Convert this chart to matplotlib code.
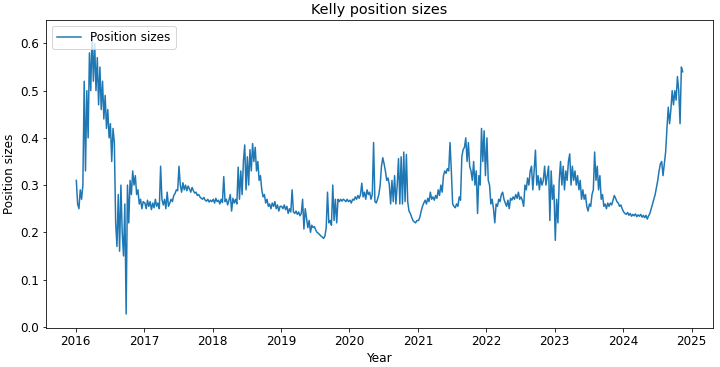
import matplotlib
matplotlib.use("Agg")
import matplotlib.pyplot as plt
import matplotlib.dates as mdates
import pandas as pd

# Weekly readings of the Kelly position size, one list per calendar year
pos_2016 = [0.31, 0.26, 0.25, 0.29, 0.27, 0.30, 0.52, 0.33, 0.50, 0.40,
            0.58, 0.50, 0.62, 0.52, 0.60, 0.50, 0.57, 0.47, 0.55, 0.46,
            0.52, 0.44, 0.49, 0.42, 0.46, 0.40, 0.43, 0.35, 0.42, 0.39,
            0.22, 0.17, 0.28, 0.16, 0.30, 0.20, 0.15, 0.26, 0.027, 0.30,
            0.22, 0.31, 0.28, 0.33, 0.30, 0.32, 0.28, 0.29, 0.26, 0.27,
            0.25, 0.265]
pos_2017 = [0.262, 0.25, 0.268, 0.255, 0.265, 0.248, 0.262, 0.252, 0.27, 0.255,
            0.262, 0.25, 0.34, 0.27, 0.258, 0.27, 0.25, 0.285, 0.255, 0.262,
            0.27, 0.265, 0.278, 0.282, 0.29, 0.288, 0.34, 0.30, 0.285, 0.305,
            0.29, 0.30, 0.288, 0.298, 0.292, 0.285, 0.295, 0.288, 0.283, 0.285,
            0.278, 0.28, 0.275, 0.272, 0.27, 0.274, 0.268, 0.266, 0.27, 0.264,
            0.268, 0.265]
pos_2018 = [0.27, 0.262, 0.272, 0.265, 0.268, 0.26, 0.27, 0.263, 0.318, 0.265,
            0.27, 0.258, 0.268, 0.28, 0.245, 0.272, 0.262, 0.27, 0.26, 0.338,
            0.27, 0.33, 0.28, 0.35, 0.385, 0.29, 0.36, 0.30, 0.375, 0.33,
            0.388, 0.35, 0.38, 0.33, 0.35, 0.31, 0.32, 0.29, 0.275, 0.28,
            0.262, 0.27, 0.255, 0.26, 0.25, 0.262, 0.255, 0.265, 0.25, 0.258,
            0.245, 0.255]
pos_2019 = [0.255, 0.25, 0.258, 0.248, 0.255, 0.24, 0.25, 0.243, 0.29, 0.243,
            0.24, 0.245, 0.238, 0.243, 0.235, 0.24, 0.27, 0.207, 0.25, 0.23,
            0.21, 0.225, 0.20, 0.215, 0.21, 0.212, 0.205, 0.20, 0.198, 0.195,
            0.192, 0.19, 0.187, 0.192, 0.21, 0.285, 0.22, 0.225, 0.215, 0.30,
            0.225, 0.27, 0.22, 0.27, 0.265, 0.27, 0.266, 0.27, 0.268, 0.265,
            0.27, 0.265]
pos_2020 = [0.268, 0.262, 0.27, 0.268, 0.275, 0.27, 0.278, 0.272, 0.28, 0.304,
            0.275, 0.285, 0.27, 0.29, 0.28, 0.285, 0.27, 0.28, 0.39, 0.265,
            0.262, 0.27, 0.28, 0.30, 0.34, 0.358, 0.345, 0.33, 0.31, 0.315,
            0.30, 0.26, 0.31, 0.265, 0.32, 0.26, 0.30, 0.356, 0.26, 0.36,
            0.26, 0.37, 0.265, 0.365, 0.265, 0.245, 0.24, 0.232, 0.225, 0.222,
            0.22, 0.225]
pos_2021 = [0.225, 0.232, 0.245, 0.255, 0.262, 0.268, 0.26, 0.272, 0.265, 0.285,
            0.27, 0.275, 0.268, 0.278, 0.272, 0.29, 0.278, 0.30, 0.285, 0.32,
            0.33, 0.325, 0.335, 0.33, 0.39, 0.33, 0.26, 0.255, 0.252, 0.26,
            0.255, 0.275, 0.268, 0.36, 0.375, 0.38, 0.40, 0.35, 0.39, 0.34,
            0.33, 0.31, 0.35, 0.30, 0.33, 0.24, 0.32, 0.30, 0.42, 0.35,
            0.415, 0.32]
pos_2022 = [0.40, 0.31, 0.30, 0.26, 0.27, 0.25, 0.22, 0.26, 0.255, 0.27,
            0.265, 0.28, 0.285, 0.27, 0.262, 0.255, 0.268, 0.25, 0.272, 0.268,
            0.275, 0.27, 0.28, 0.272, 0.285, 0.27, 0.275, 0.268, 0.255, 0.30,
            0.29, 0.315, 0.30, 0.33, 0.34, 0.29, 0.33, 0.374, 0.30, 0.32,
            0.29, 0.315, 0.30, 0.31, 0.34, 0.30, 0.32, 0.34, 0.225, 0.33,
            0.27, 0.30]
pos_2023 = [0.183, 0.27, 0.22, 0.31, 0.35, 0.30, 0.34, 0.29, 0.33, 0.31,
            0.35, 0.366, 0.30, 0.34, 0.31, 0.33, 0.30, 0.32, 0.29, 0.31,
            0.27, 0.29, 0.27, 0.28, 0.255, 0.245, 0.26, 0.255, 0.28, 0.29,
            0.37, 0.31, 0.34, 0.29, 0.32, 0.27, 0.28, 0.255, 0.26, 0.25,
            0.262, 0.255, 0.262, 0.258, 0.268, 0.278, 0.272, 0.265, 0.262, 0.255,
            0.258, 0.25]
pos_2024 = [0.243, 0.24, 0.238, 0.242, 0.236, 0.24, 0.234, 0.238, 0.235, 0.239,
            0.233, 0.237, 0.234, 0.238, 0.232, 0.236, 0.231, 0.236, 0.228, 0.235,
            0.24, 0.25, 0.26, 0.27, 0.28, 0.295, 0.31, 0.33, 0.345, 0.35,
            0.32, 0.345, 0.37, 0.42, 0.465, 0.43, 0.46, 0.50, 0.47, 0.50,
            0.48, 0.53, 0.50, 0.43, 0.55, 0.54]

years = [2016, 2017, 2018, 2019, 2020, 2021, 2022, 2023, 2024]
yearly_values = [pos_2016, pos_2017, pos_2018, pos_2019, pos_2020,
                 pos_2021, pos_2022, pos_2023, pos_2024]

parts = []
for yr, vals in zip(years, yearly_values):
    idx = pd.date_range(f"{yr}-01-04", periods=len(vals), freq="7D")
    parts.append(pd.Series(vals, index=idx))
series = pd.concat(parts)

plt.rcParams["font.size"] = 12
fig = plt.figure(figsize=(10, 367 / 72), dpi=72)
ax = fig.add_axes([46 / 720, 1 - 328 / 367, (713 - 46) / 720, (328 - 20) / 367])
ax.plot(series.index, series.values, color="#1f77b4", linewidth=1.5,
        label="Position sizes")
ax.xaxis.set_major_locator(mdates.YearLocator())
ax.xaxis.set_major_formatter(mdates.DateFormatter("%Y"))
ax.set_title("Kelly position sizes")
ax.set_xlabel("Year")
ax.set_ylabel("Position sizes")
ax.legend(loc="upper left")
fig.savefig("out.png", dpi=72)
